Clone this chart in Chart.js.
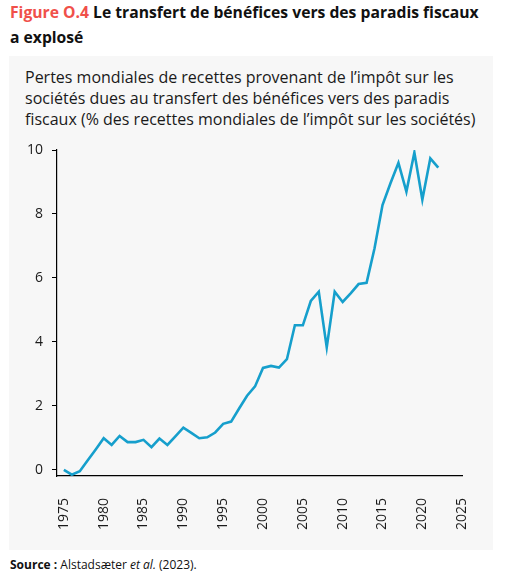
<!DOCTYPE html>
<html lang="fr">
<head>
<meta charset="UTF-8">
<title>Figure O.4</title>
<script src="https://cdn.jsdelivr.net/npm/chart.js"></script>
<style>
    body {
        margin: 0;
        width: 512px;
        height: 576px;
        background: #ffffff;
        font-family: 'Open Sans', sans-serif;
        position: relative;
        overflow: hidden;
    }
    .title {
        position: absolute;
        left: 10px;
        top: 0;
        font-size: 15.7px;
        font-weight: bold;
        line-height: 25px;
        color: #111;
    }
    .title .fig { color: #f0504a; }
    .panel {
        position: absolute;
        left: 9px;
        top: 56px;
        width: 484px;
        height: 494px;
        background: #f7f7f7;
    }
    .subtitle {
        position: absolute;
        left: 16px;
        top: 11px;
        font-size: 16px;
        line-height: 21px;
        color: #1a1a1a;
    }
    .chart-box {
        position: absolute;
        left: 0;
        top: 74px;
        width: 484px;
        height: 420px;
    }
    .source {
        position: absolute;
        left: 10px;
        top: 557px;
        font-size: 12px;
        line-height: 16px;
        color: #111;
    }
</style>
</head>
<body>
    <div class="title"><span class="fig">Figure O.4</span> Le transfert de bénéfices vers des paradis fiscaux<br>a explosé</div>

    <div class="panel">
        <div class="subtitle">Pertes mondiales de recettes provenant de l’impôt sur les<br>sociétés dues au transfert des bénéfices vers des paradis<br>fiscaux (% des recettes mondiales de l’impôt sur les sociétés)</div>
        <div class="chart-box">
            <canvas id="shiftChart" width="484" height="420"></canvas>
        </div>
    </div>

    <div class="source"><b>Source :</b> Alstadsæter <i>et al.</i> (2023).</div>

    <script>
        // Données
        const years = [1975, 1976, 1977, 1978, 1979, 1980, 1981, 1982, 1983, 1984,
            1985, 1986, 1987, 1988, 1989, 1990, 1991, 1992, 1993, 1994,
            1995, 1996, 1997, 1998, 1999, 2000, 2001, 2002, 2003, 2004,
            2005, 2006, 2007, 2008, 2009, 2010, 2011, 2012, 2013, 2014,
            2015, 2016, 2017, 2018, 2019, 2020, 2021, 2022];
        const losses = [0.0, -0.15, -0.04, 0.3, 0.64, 0.99, 0.78, 1.06, 0.87, 0.87,
            0.94, 0.71, 0.98, 0.78, 1.05, 1.32, 1.16, 0.99, 1.02, 1.17,
            1.44, 1.51, 1.92, 2.32, 2.61, 3.19, 3.25, 3.2, 3.46, 4.52,
            4.52, 5.28, 5.57, 3.83, 5.57, 5.25, 5.52, 5.81, 5.85, 6.93,
            8.28, 8.96, 9.6, 8.7, 9.92, 8.45, 9.74, 9.45];
        const xTicks = [1975, 1980, 1985, 1990, 1995, 2000, 2005, 2010, 2015, 2020, 2025];
        const yTicks = [0, 2, 4, 6, 8, 10];

        const tickFont = { family: "'Open Sans', sans-serif", size: 14 };

        new Chart(document.getElementById('shiftChart'), {
            type: 'line',
            data: {
                datasets: [{
                    data: years.map((y, i) => ({ x: y, y: losses[i] })),
                    borderColor: '#169fcc',
                    borderWidth: 2.6,
                    pointRadius: 0,
                    tension: 0,
                    fill: false
                }]
            },
            options: {
                responsive: false,
                animation: false,
                layout: { padding: { left: 0, right: 23, top: 20, bottom: 0 } },
                plugins: {
                    legend: { display: false },
                    tooltip: { enabled: false }
                },
                scales: {
                    x: {
                        type: 'linear',
                        min: 1974.14,
                        max: 2025.06,
                        afterBuildTicks: s => { s.ticks = xTicks.map(v => ({ value: v })); },
                        afterFit: s => { s.height = 74; },
                        grid: { display: false },
                        border: { display: true, color: '#000', width: 1.2 },
                        ticks: {
                            minRotation: 90,
                            maxRotation: 90,
                            padding: 14,
                            color: '#1a1a1a',
                            font: tickFont,
                            callback: v => String(v)
                        }
                    },
                    y: {
                        min: -0.19,
                        max: 10,
                        afterBuildTicks: s => { s.ticks = yTicks.map(v => ({ value: v })); },
                        afterFit: s => { s.width = 48; },
                        grid: {
                            drawOnChartArea: false,
                            drawTicks: true,
                            tickLength: 5,
                            color: '#000'
                        },
                        border: { display: true, color: '#000', width: 1.2 },
                        ticks: {
                            padding: 9,
                            color: '#1a1a1a',
                            font: tickFont
                        }
                    }
                }
            }
        });
    </script>
</body>
</html>
